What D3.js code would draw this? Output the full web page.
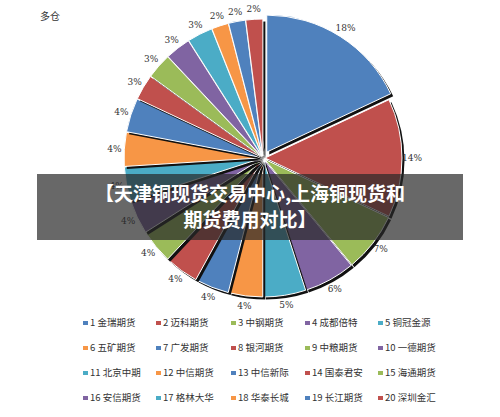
<!DOCTYPE html>
<html><head><meta charset="utf-8">
<script src="https://cdn.jsdelivr.net/npm/d3@7"></script>
<style>body{margin:0;background:#fff}svg{font-family:"Noto Sans CJK SC",sans-serif}</style>
</head><body><svg id="c" width="500" height="417"></svg>
<script>
const names = ['金瑞期货','迈科期货','中钢期货','成都倍特','铜冠金源','五矿期货','广发期货','银河期货','中粮期货','一德期货',
  '北京中期','中信期货','中信新际','国泰君安','海通期货','安信期货','格林大华','华泰长城','长江期货','深圳金汇'];
const values = [18,14,7,6,5,4,4,4,4,4,4,4,4,3,3,3,3,2,2,2];
const palette = ['#4F81BD','#C0504D','#9BBB59','#8064A2','#4BACC6','#F79646'];

const svg = d3.select('#c');
const cx = 263, cy = 158, r = 137;
const color = i => palette[i % palette.length];
const arcs = d3.pie().sort(null)(values);
const arc = d3.arc().innerRadius(0).outerRadius(r);
const labelArc = d3.arc().innerRadius(r + 10).outerRadius(r + 10);

svg.append('text').attr('x', 40).attr('y', 20).attr('font-size', 10).attr('fill', '#333').text('多仓');

const g = svg.append('g').attr('transform', `translate(${cx},${cy})`);
const off = (d, k) => {
  const a = (d.startAngle + d.endAngle) / 2;
  return [Math.sin(a) * k, -Math.cos(a) * k];
};
arcs.forEach((d, i) => {
  const k = i === 0 ? 7 : 2;
  const [dx, dy] = off(d, k);
  g.append('path').attr('d', arc(d)).attr('fill', '#111')
    .attr('transform', `translate(${dx + 2.5},${dy + 2.5})`);
  g.append('path').attr('d', arc(d)).attr('fill', color(i))
    .attr('stroke', '#fff').attr('stroke-width', 1)
    .attr('transform', `translate(${dx},${dy})`);
  const [lx, ly] = labelArc.centroid(d);
  g.append('text').attr('x', lx + dx).attr('y', ly + dy + 3)
    .attr('text-anchor', 'middle').attr('font-size', 9).attr('fill', '#333')
    .attr('font-family', 'DejaVu Serif').text(values[i] + '%');
});

// banner
svg.append('rect').attr('x', 37).attr('y', 174).attr('width', 426).attr('height', 66)
  .attr('fill', 'rgba(40,40,40,0.7)');
svg.append('text').attr('x', 250).attr('y', 201).attr('text-anchor', 'middle')
  .attr('font-size', 19).attr('font-weight', 'bold').attr('fill', '#fff')
  .text('【天津铜现货交易中心,上海铜现货和');
svg.append('text').attr('x', 250).attr('y', 227).attr('text-anchor', 'middle')
  .attr('font-size', 19).attr('font-weight', 'bold').attr('fill', '#fff')
  .text('期货费用对比】');

// legend
const colX = [83, 156, 231, 305, 378];
names.forEach((n, i) => {
  const x = colX[i % 5], y = 326 + Math.floor(i / 5) * 25;
  svg.append('rect').attr('x', x).attr('y', y - 5).attr('width', 5).attr('height', 4).attr('fill', color(i));
  svg.append('text').attr('x', x + 7).attr('y', y).attr('font-size', 9.5).attr('fill', '#333')
    .text((i + 1) + ' ' + n);
});
</script></body></html>
